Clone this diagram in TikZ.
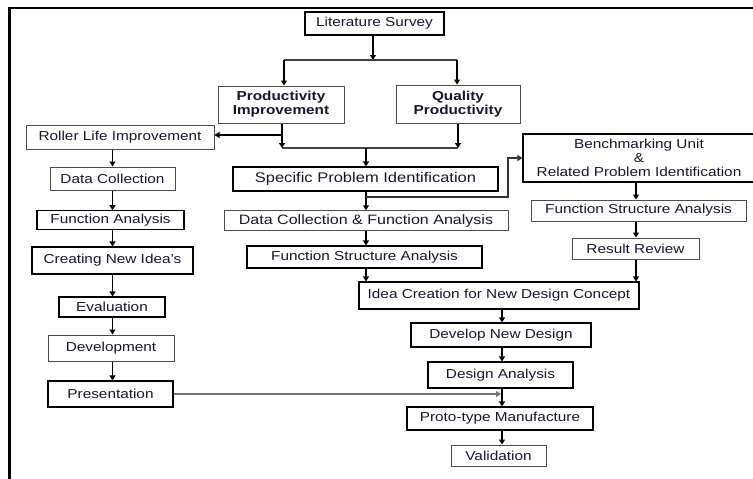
\documentclass[tikz,border=0pt]{standalone}
\usepackage{fontspec}
\setmainfont{Liberation Sans}[FakeStretch=1.18]
\usetikzlibrary{arrows.meta}
\definecolor{txt}{RGB}{22,22,48}
\tikzset{
  box/.style={draw=black!70, line width=1pt, inner sep=0pt, align=center, text=txt,
    font=\fontsize{13}{14}\selectfont},
  boxd/.style={box, draw=black, line width=1.15pt},
  arr/.style={draw=black, line width=1.2pt, -{Triangle[width=6pt,length=5pt]}},
  ln/.style={draw=black!75, line width=1.1pt},
  frame/.style={draw=black, line width=2.5pt}
}
\begin{document}
\begin{tikzpicture}[x=1pt,y=-1pt]
\useasboundingbox (0,0) rectangle (753,479);
% frame
\draw[frame] (9.5,479) -- (9.5,8) -- (753,8);
% nodes
\node[boxd, minimum width=139pt, minimum height=23pt] (lit) at (374.5,23.5) {Literature Survey};
\node[box, minimum width=126pt, minimum height=37pt, font=\fontsize{13}{14}\selectfont\bfseries] (prod) at (281,104.5) {Productivity\\Improvement};
\node[box, minimum width=124pt, minimum height=38pt, font=\fontsize{13}{14}\selectfont\bfseries] (qual) at (458,104) {Quality\\Productivity};
\node[box, minimum width=188pt, minimum height=24pt] (roller) at (120,137) {Roller Life Improvement};
\node[boxd, minimum width=265pt, minimum height=24pt, font=\fontsize{14}{15}\selectfont] (spec) at (365.5,179) {Specific Problem Identification};
\node[boxd, minimum width=232pt, minimum height=48pt] (bench) at (639,158) {Benchmarking Unit\\\&\\Related Problem Identification};
\node[box, minimum width=284pt, minimum height=19.5pt, font=\fontsize{13.6}{14}\selectfont] (dcfa) at (366,220.5) {Data Collection \& Function Analysis};
\node[box, minimum width=215pt, minimum height=21pt] (fsar) at (638.5,210.5) {Function Structure Analysis};
\node[box, minimum width=127pt, minimum height=21pt] (res) at (635.5,248.5) {Result Review};
\node[boxd, minimum width=235pt, minimum height=22pt] (fsam) at (364.5,257) {Function Structure Analysis};
\node[boxd, minimum width=280pt, minimum height=27pt] (idea) at (499,295.5) {Idea Creation for New Design Concept};
\node[boxd, minimum width=180pt, minimum height=24pt] (dev) at (501,335) {Develop New Design};
\node[boxd, minimum width=145pt, minimum height=26pt] (da) at (500.5,375) {Design Analysis};
\node[boxd, minimum width=186pt, minimum height=23pt] (proto) at (500,418.5) {Proto-type Manufacture};
\node[box, minimum width=95pt, minimum height=21pt] (val) at (498.5,455.5) {Validation};
\node[box, minimum width=125pt, minimum height=23pt] (dc) at (112.5,178.5) {Data Collection};
\node[boxd, minimum width=147pt, minimum height=18.5pt] (fa) at (110.5,220) {Function Analysis};
\node[boxd, minimum width=161pt, minimum height=27pt] (cni) at (112.5,260.5) {Creating New Idea's};
\node[boxd, minimum width=106pt, minimum height=20pt] (ev) at (112,307) {Evaluation};
\node[box, minimum width=126pt, minimum height=26pt] (devl) at (111,348) {Development};
\node[boxd, minimum width=125pt, minimum height=26pt] (pres) at (110.5,394) {Presentation};
% helper coordinates
\coordinate (t1) at (373,60);
\coordinate (t2) at (284,60);
\coordinate (t3) at (457,60);
\coordinate (m1) at (282,148);
\coordinate (m2) at (458,148);
\coordinate (m3) at (366,148);
\coordinate (r1) at (283,135);
\coordinate (b1) at (366,197);
\coordinate (b2) at (508,197);
\coordinate (rr) at (636,0);
\coordinate (cc) at (502,0);
\coordinate (lx) at (112.5,0);
% top connectors
\draw[arr] (lit.south -| t1) -- (t1);
\draw[ln] (t2) -- (t3);
\draw[arr] (t2) -- (t2 |- prod.north);
\draw[arr] (t3) -- (t3 |- qual.north);
\draw[arr] (prod.south -| m1) -- (m1);
\draw[arr] (qual.south -| m2) -- (m2);
\draw[ln] (m1) -- (m2);
\draw[arr] (r1) -- (r1 -| roller.east);
\draw[arr] (m3) -- (m3 |- spec.north);
% middle column
\draw[arr] (spec.south -| m3) -- (m3 |- dcfa.north);
\draw[arr, draw=black!80] (b1) -- (b2) |- (bench.west);
\draw[arr] (dcfa.south -| m3) -- (m3 |- fsam.north);
\draw[arr] (fsam.south -| m3) -- (m3 |- idea.north);
% right column
\draw[arr] (bench.south -| rr) -- (rr |- fsar.north);
\draw[arr] (fsar.south -| rr) -- (rr |- res.north);
\draw[arr] (res.south -| rr) -- (rr |- idea.north);
% lower column
\draw[arr] (idea.south -| cc) -- (cc |- dev.north);
\draw[arr] (dev.south -| cc) -- (cc |- da.north);
\draw[arr] (da.south -| cc) -- (cc |- proto.north);
\draw[arr] (proto.south -| cc) -- (cc |- val.north);
% left column
\draw[arr] (roller.south -| lx) -- (lx |- dc.north);
\draw[arr] (dc.south -| lx) -- (lx |- fa.north);
\draw[arr] (fa.south -| lx) -- (lx |- cni.north);
\draw[arr] (cni.south -| lx) -- (lx |- ev.north);
\draw[arr] (ev.south -| lx) -- (lx |- devl.north);
\draw[arr] (devl.south -| lx) -- (lx |- pres.north);
\draw[arr, draw=black!55] (pres.east) -- ([xshift=-1pt]cc |- pres.east);
\end{tikzpicture}
\end{document}
